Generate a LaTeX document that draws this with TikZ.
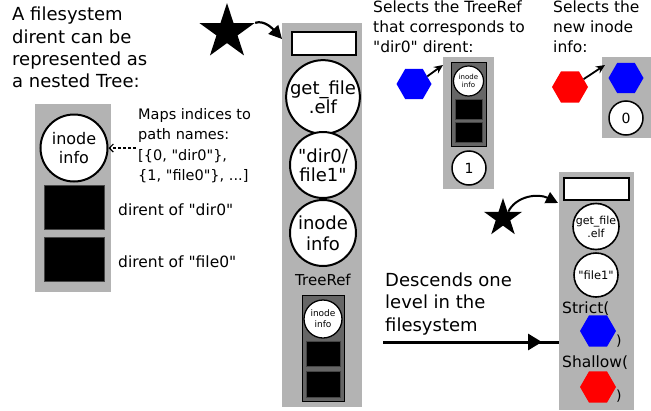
\documentclass[tikz,border=0pt]{standalone}
\usepackage{fontspec}
\setmainfont{DejaVu Sans}[Ligatures=TeXOff]
\usetikzlibrary{shapes.geometric,arrows.meta}

\definecolor{boxgray}{RGB}{179,179,179}
\definecolor{innergray}{RGB}{102,102,102}
\definecolor{edgegray}{RGB}{70,70,70}
\definecolor{hexblue}{RGB}{0,0,255}
\definecolor{hexred}{RGB}{255,0,0}

\tikzset{
  colbg/.style={fill=boxgray, draw=none, inner sep=0, outer sep=0},
  innerbox/.style={fill=innergray, draw=black, line width=1pt, inner sep=0},
  blk/.style={fill=black, draw=edgegray, line width=0.8pt, inner sep=0},
  slot/.style={fill=white, draw=black, line width=2pt, inner sep=0},
  disc/.style={circle, draw=black, fill=white, line width=2pt, inner sep=0, align=center},
  hexa/.style={regular polygon, regular polygon sides=6, inner sep=0, draw=none},
  bigstar/.style={star, star points=5, star point ratio=2.618, fill=black, draw=none, inner sep=0},
  note/.style={align=left, inner sep=0, anchor=north west},
  lbl/.style={inner sep=0, anchor=base west},
  pointer/.style={line width=1.8pt, -{Stealth[length=9pt,width=8pt]}},
  jump/.style={line width=2.2pt, -{Triangle[length=13pt,width=13pt]}}
}

\begin{document}
\begin{tikzpicture}[x=1pt,y=-1pt]
\useasboundingbox (0,0) rectangle (651,410);

% ---------- intro text ----------
\node[note, font=\fontsize{18}{22.2}\selectfont] (intro) at (12,7)
  {A filesystem\\dirent can be\\represented as\\a nested Tree:};

% ---------- left column: the Tree ----------
\node[colbg, minimum width=76, minimum height=188] (colA) at (73,198) {};
\node[disc, minimum size=67, font=\fontsize{16}{18.5}\selectfont] (inodeA) at (74,148) {inode\\info};
\node[blk, minimum width=60, minimum height=44] (dirA) at (74,207) {};
\node[blk, minimum width=60, minimum height=44] (fileA) at (74,259) {};

\node[note, font=\fontsize{14.5}{20.3}\selectfont] (maps) at (138,108.3)
  {Maps indices to\\path names:\\{}[\{0, "dir0"\},\\\{1, "file0"\}, ...]};
\coordinate (mapsfrom) at (136,148);
\draw[line width=1.2pt, dash pattern=on 3pt off 2pt, -{Straight Barb[length=4pt,width=8pt]}]
  (mapsfrom) -- (inodeA.east);

\node[lbl, font=\fontsize{15.5}{18}\selectfont] (dirlbl) at (118,215) {dirent of "dir0"};
\node[lbl, font=\fontsize{15.5}{18}\selectfont] (filelbl) at (118,267) {dirent of "file0"};

% ---------- middle column: a TreeRef cursor ----------
\node[bigstar, minimum size=58] (starA) at (227,32) {};
\node[colbg, minimum width=80, minimum height=384] (colB) at (322,215) {};
\node[slot, minimum width=64, minimum height=23] (slotB) at (324,43.5) {};
\node[disc, minimum size=66, font=\fontsize{18}{19}\selectfont] (getB) at (323,97) {get\_file\\.elf};
\node[disc, minimum size=66, font=\fontsize{18}{19}\selectfont] (pathB) at (323,165) {"dir0/\\file1"};
\node[disc, minimum size=66, font=\fontsize{18}{21}\selectfont] (inodeB) at (323,233) {inode\\info};
\node[inner sep=0, anchor=base, font=\fontsize{15}{18}\selectfont] (treeref) at (323,285) {TreeRef};
\node[innerbox, minimum width=42, minimum height=106] (refB) at (323,348) {};
\node[disc, line width=1.3pt, minimum size=38, font=\fontsize{9}{11}\selectfont] (inodeR) at (323,319) {inode\\info};
\node[blk, minimum width=34, minimum height=25] (dirR) at (323,353.5) {};
\node[blk, minimum width=34, minimum height=26] (fileR) at (323,384) {};

\coordinate (tipA) at (282,39);
\draw[jump] (starA.18) .. controls (264,20) and (272,28) .. (tipA);

% ---------- selecting the "dir0" TreeRef ----------
\node[note, font=\fontsize{15.5}{19.8}\selectfont] (sel1) at (373,0.9)
  {Selects the TreeRef\\that corresponds to\\"dir0" dirent:};
\node[hexa, fill=hexblue, minimum size=35] (hexS) at (414,84) {};
\node[colbg, minimum width=51, minimum height=132] (colC) at (468.5,123) {};
\node[innerbox, minimum width=35, minimum height=84] (refC) at (468.5,104) {};
\node[disc, line width=1.2pt, minimum size=30, font=\fontsize{7}{8.5}\selectfont] (inodeC) at (468.5,81) {inode\\info};
\node[blk, minimum width=27, minimum height=20] (dirC) at (468.5,109) {};
\node[blk, minimum width=27, minimum height=20] (fileC) at (468.5,132) {};
\node[disc, line width=1.5pt, minimum size=34, font=\fontsize{14}{16}\selectfont] (oneC) at (469,168) {1};
\coordinate (tipC) at (443,65);
\draw[pointer] (hexS.30) -- (tipC);

% ---------- selecting the new inode info ----------
\node[note, font=\fontsize{15.5}{19.8}\selectfont] (sel2) at (553,0.9)
  {Selects the\\new inode\\info:};
\node[hexa, fill=hexred, minimum size=36] (hexH) at (570,87) {};
\node[colbg, minimum width=49, minimum height=81] (colD) at (626.5,97.5) {};
\node[hexa, fill=hexblue, minimum size=35] (hexD) at (626,78) {};
\node[disc, line width=1.5pt, minimum size=34, font=\fontsize{14}{16}\selectfont] (zeroD) at (626,118) {0};
\coordinate (tipD) at (605,65);
\draw[pointer] (hexH.30) -- (tipD);

% ---------- descending one level ----------
\node[note, font=\fontsize{18}{22.5}\selectfont] (desc) at (385,272.3)
  {Descends one\\level in the\\filesystem};
\coordinate (descfrom) at (383,342);
\coordinate (descmid) at (542,342);
\coordinate (descto) at (562,342);
\draw[line width=3pt] (descfrom) -- (descto);
\draw[line width=3pt, -{Triangle[length=14pt,width=16pt]}] (descfrom) -- (descmid);

% ---------- lower right column: the descended TreeRef ----------
\node[bigstar, minimum size=40] (starE) at (503,218) {};
\node[colbg, minimum width=75, minimum height=238] (colE) at (596.5,291) {};
\node[slot, minimum width=65, minimum height=22] (slotE) at (596.5,189) {};
\node[disc, line width=1.6pt, minimum size=46, font=\fontsize{11}{13}\selectfont] (getE) at (596,226.5) {get\_file\\.elf};
\node[disc, line width=1.6pt, minimum size=44, font=\fontsize{11.5}{13}\selectfont] (pathE) at (596,275) {"file1"};
\node[lbl, font=\fontsize{15.5}{18}\selectfont] (strict) at (562,313) {Strict(};
\node[hexa, fill=hexblue, minimum size=36] (hexE1) at (598,331) {};
\node[lbl, font=\fontsize{14}{16}\selectfont] (close1) at (616,345) {)};
\node[lbl, font=\fontsize{15.5}{18}\selectfont] (shallow) at (562,367) {Shallow(};
\node[hexa, fill=hexred, minimum size=36] (hexE2) at (598,387) {};
\node[lbl, font=\fontsize{14}{16}\selectfont] (close2) at (616,400) {)};

\coordinate (tipE) at (558,203);
\draw[jump, line width=2pt, -{Triangle[length=12pt,width=12pt]}] (starE.50) .. controls (516,196) and (538,193) .. (tipE);
\end{tikzpicture}
\end{document}
